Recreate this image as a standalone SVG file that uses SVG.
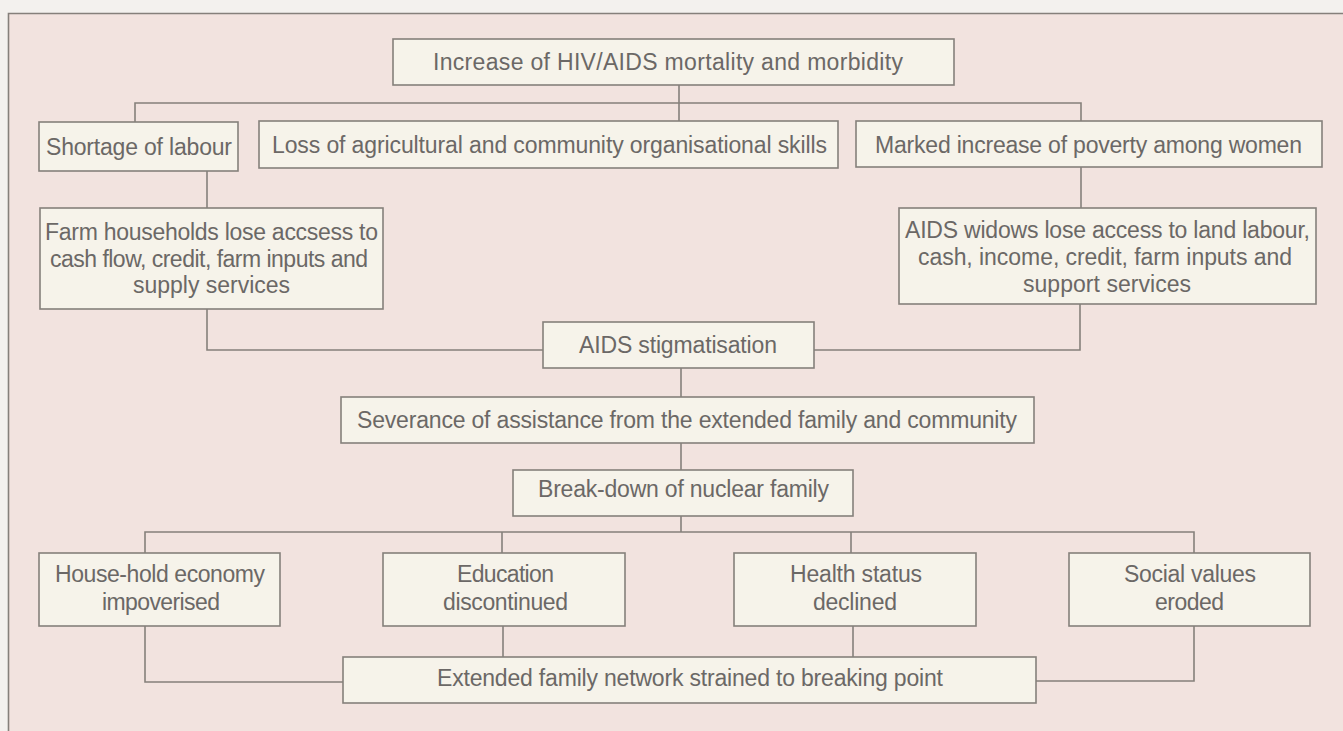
<svg xmlns="http://www.w3.org/2000/svg" width="1343" height="731" viewBox="0 0 1343 731">
<style>
.box{fill:#f6f3ea;stroke:#85807b;stroke-width:1.6}
.lbl{font-family:"Liberation Sans",Arial,sans-serif;font-size:23px;fill:#6b6866;text-anchor:middle}
.con{fill:none;stroke:#85807b;stroke-width:1.6}
</style>
<rect x="0" y="0" width="1343" height="731" fill="#f3f1ee"/>
<rect x="8.5" y="13.5" width="1340" height="730" fill="#f2e3df"/>
<path d="M8.5,731 V13.5 H1343" fill="none" stroke="#85807b" stroke-width="1.6"/>
<g id="connectors">
<path class="con" d="M679,85 V121"/>
<path class="con" d="M135,122 V103 H1081 V121"/>
<path class="con" d="M207,171 V208"/>
<path class="con" d="M1081,167 V208"/>
<path class="con" d="M207,309 V350 H543"/>
<path class="con" d="M814,350 H1080 V304"/>
<path class="con" d="M681,368 V397"/>
<path class="con" d="M681,443 V470"/>
<path class="con" d="M681,516 V532"/>
<path class="con" d="M145,553 V532 H1194 V553"/>
<path class="con" d="M502,532 V553"/>
<path class="con" d="M851,532 V553"/>
<path class="con" d="M145,626 V682 H343"/>
<path class="con" d="M503,626 V657"/>
<path class="con" d="M853,626 V657"/>
<path class="con" d="M1194,626 V681 H1036"/>
</g>
<g id="n-increase">
<rect class="box" x="393" y="39" width="561" height="46"/>
<text class="lbl" x="668" y="70" textLength="470">Increase of HIV/AIDS mortality and morbidity</text>
</g>
<g id="n-shortage">
<rect class="box" x="39" y="122" width="199" height="49"/>
<text class="lbl" x="139" y="155" textLength="186">Shortage of labour</text>
</g>
<g id="n-loss">
<rect class="box" x="259" y="121" width="579" height="47"/>
<text class="lbl" x="549.5" y="153" textLength="555">Loss of agricultural and community organisational skills</text>
</g>
<g id="n-marked">
<rect class="box" x="856" y="121" width="466" height="46"/>
<text class="lbl" x="1088.5" y="153" textLength="427">Marked increase of poverty among women</text>
</g>
<g id="n-farm">
<rect class="box" x="40" y="208" width="343" height="101"/>
<text class="lbl" x="211.5" y="240" textLength="333">Farm households lose accsess to</text>
<text class="lbl" x="209" y="267" textLength="318">cash flow, credit, farm inputs and</text>
<text class="lbl" x="211.5" y="293" textLength="157">supply services</text>
</g>
<g id="n-widows">
<rect class="box" x="899" y="208" width="417" height="96"/>
<text class="lbl" x="1107.5" y="238" textLength="405">AIDS widows lose access to land labour,</text>
<text class="lbl" x="1105" y="265" textLength="374">cash, income, credit, farm inputs and</text>
<text class="lbl" x="1107" y="292" textLength="168">support services</text>
</g>
<g id="n-stigma">
<rect class="box" x="543" y="322" width="271" height="46"/>
<text class="lbl" x="678" y="353" textLength="198">AIDS stigmatisation</text>
</g>
<g id="n-severance">
<rect class="box" x="341" y="397" width="693" height="46"/>
<text class="lbl" x="687" y="428" textLength="660">Severance of assistance from the extended family and community</text>
</g>
<g id="n-breakdown">
<rect class="box" x="513" y="470" width="340" height="46"/>
<text class="lbl" x="683.5" y="497" textLength="291">Break-down of nuclear family</text>
</g>
<g id="n-household">
<rect class="box" x="39" y="553" width="241" height="73"/>
<text class="lbl" x="160" y="582" textLength="210">House-hold economy</text>
<text class="lbl" x="161" y="610" textLength="118">impoverised</text>
</g>
<g id="n-education">
<rect class="box" x="383" y="553" width="242" height="73"/>
<text class="lbl" x="505.5" y="582" textLength="97">Education</text>
<text class="lbl" x="505.5" y="610" textLength="125">discontinued</text>
</g>
<g id="n-health">
<rect class="box" x="734" y="553" width="242" height="73"/>
<text class="lbl" x="856" y="582" textLength="132">Health status</text>
<text class="lbl" x="855" y="610" textLength="84">declined</text>
</g>
<g id="n-social">
<rect class="box" x="1069" y="553" width="241" height="73"/>
<text class="lbl" x="1190" y="582" textLength="132">Social values</text>
<text class="lbl" x="1189.5" y="610" textLength="69">eroded</text>
</g>
<g id="n-extended">
<rect class="box" x="343" y="657" width="693" height="46"/>
<text class="lbl" x="690" y="686" textLength="506">Extended family network strained to breaking point</text>
</g>
</svg>
